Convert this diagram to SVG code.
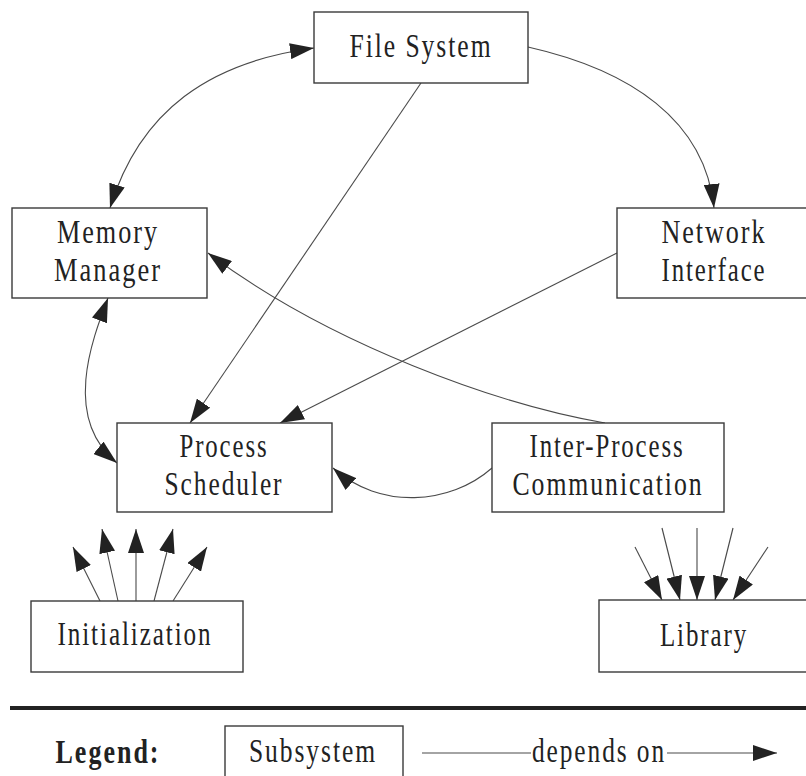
<svg xmlns="http://www.w3.org/2000/svg" width="806" height="776" viewBox="0 0 806 776">
  <style>
    .box { fill: #ffffff; stroke: #3a3a3a; stroke-width: 1.4; }
    .lbl { font-family: "Liberation Serif", "Times New Roman", serif; font-size: 33px; letter-spacing: 2.5px; fill: #222; text-anchor: middle; }
    .bold { font-weight: bold; }
    .conn { fill: none; stroke: #4a4a4a; stroke-width: 1.1; }
  </style>
  <defs>
    <marker id="ah" markerUnits="userSpaceOnUse" markerWidth="24" markerHeight="16" refX="24" refY="8" orient="auto-start-reverse" viewBox="0 0 24 16">
      <path d="M0,0 L24,8 L0,16 z" fill="#222"/>
    </marker>
  </defs>
  <rect width="806" height="776" fill="#ffffff"/>

  <g id="connectors">
    <path class="conn" d="M314,48 C210,62 140,110 110,208" marker-start="url(#ah)" marker-end="url(#ah)"/>
    <path class="conn" d="M528,47 C630,70 705,120 714,208" marker-end="url(#ah)"/>
    <path class="conn" d="M421,83 L190,423" marker-end="url(#ah)"/>
    <path class="conn" d="M617,253 L280,423" marker-end="url(#ah)"/>
    <path class="conn" d="M605,423 C500,405 330,345 208,253" marker-end="url(#ah)"/>
    <path class="conn" d="M108,298 C92,340 62,418 117,463" marker-start="url(#ah)" marker-end="url(#ah)"/>
    <path class="conn" d="M492,468 C450,505 380,510 333,468" marker-end="url(#ah)"/>
    <path class="conn" d="M100,601 L73,547" marker-end="url(#ah)"/>
    <path class="conn" d="M118,601 L102,529" marker-end="url(#ah)"/>
    <path class="conn" d="M136,601 L136,529" marker-end="url(#ah)"/>
    <path class="conn" d="M154,601 L173,529" marker-end="url(#ah)"/>
    <path class="conn" d="M173,601 L207,547" marker-end="url(#ah)"/>
    <path class="conn" d="M635,547 L662,600" marker-end="url(#ah)"/>
    <path class="conn" d="M662,528 L680,600" marker-end="url(#ah)"/>
    <path class="conn" d="M697,528 L697,600" marker-end="url(#ah)"/>
    <path class="conn" d="M733,528 L715,600" marker-end="url(#ah)"/>
    <path class="conn" d="M768,547 L733,600" marker-end="url(#ah)"/>
  </g>

  <g id="file-system">
    <rect class="box" x="314" y="12" width="214" height="71"/>
    <text class="lbl" x="421" y="57" textLength="143" lengthAdjust="spacingAndGlyphs">File System</text>
  </g>
  <g id="memory-manager">
    <rect class="box" x="12" y="208" width="195" height="90"/>
    <text class="lbl" x="108" y="243" textLength="102" lengthAdjust="spacingAndGlyphs">Memory</text>
    <text class="lbl" x="108" y="281" textLength="108" lengthAdjust="spacingAndGlyphs">Manager</text>
  </g>
  <g id="network-interface">
    <rect class="box" x="617" y="208" width="194" height="90"/>
    <text class="lbl" x="714" y="243" textLength="105" lengthAdjust="spacingAndGlyphs">Network</text>
    <text class="lbl" x="714" y="281" textLength="105" lengthAdjust="spacingAndGlyphs">Interface</text>
  </g>
  <g id="process-scheduler">
    <rect class="box" x="117" y="423" width="215" height="89"/>
    <text class="lbl" x="224" y="457" textLength="89" lengthAdjust="spacingAndGlyphs">Process</text>
    <text class="lbl" x="224" y="495" textLength="119" lengthAdjust="spacingAndGlyphs">Scheduler</text>
  </g>
  <g id="inter-process-communication">
    <rect class="box" x="492" y="423" width="232" height="89"/>
    <text class="lbl" x="607" y="457" textLength="155" lengthAdjust="spacingAndGlyphs">Inter-Process</text>
    <text class="lbl" x="608" y="495" textLength="191" lengthAdjust="spacingAndGlyphs">Communication</text>
  </g>
  <g id="initialization">
    <rect class="box" x="31" y="601" width="212" height="71"/>
    <text class="lbl" x="135" y="645" textLength="155" lengthAdjust="spacingAndGlyphs">Initialization</text>
  </g>
  <g id="library">
    <rect class="box" x="599" y="600" width="212" height="72"/>
    <text class="lbl" x="704" y="646" textLength="88" lengthAdjust="spacingAndGlyphs">Library</text>
  </g>

  <g id="legend">
    <line x1="10" y1="708" x2="806" y2="708" stroke="#222" stroke-width="4"/>
    <text class="lbl bold" x="108" y="763" textLength="105" lengthAdjust="spacingAndGlyphs">Legend:</text>
    <rect class="box" x="225" y="726" width="178" height="71"/>
    <text class="lbl" x="313" y="762" textLength="128" lengthAdjust="spacingAndGlyphs">Subsystem</text>
    <line class="conn" x1="422" y1="753" x2="531" y2="753"/>
    <text class="lbl" x="599" y="762" textLength="134" lengthAdjust="spacingAndGlyphs">depends on</text>
    <path class="conn" d="M667,753 L777,753" marker-end="url(#ah)"/>
  </g>
</svg>
